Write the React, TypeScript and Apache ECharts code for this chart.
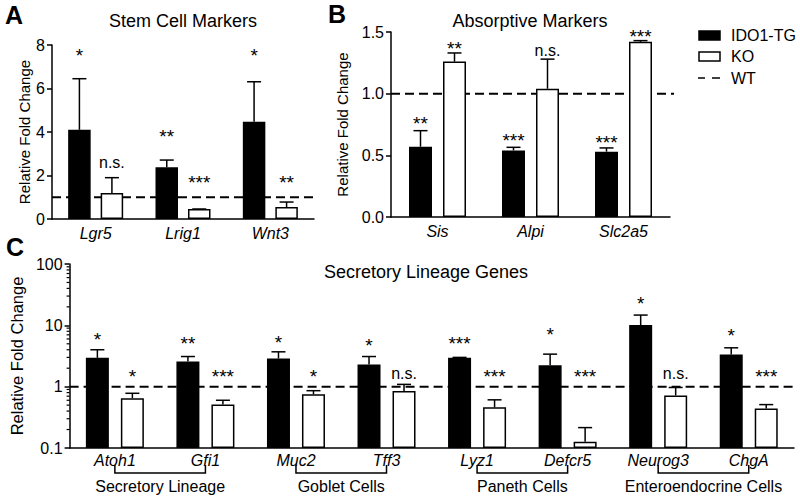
import React, { useEffect, useRef } from 'react';
import * as echarts from 'echarts';

const FONT = '"Liberation Sans", Arial, Helvetica, sans-serif';

// ---------- Panel A: Stem Cell Markers ----------
const stemGenes = ['Lgr5', 'Lrig1', 'Wnt3'];
const stemTG = [4.1, 2.38, 4.47];
const stemTGSem = [2.35, 0.33, 1.84];
const stemKO = [1.2, 0.46, 0.55];
const stemKOSem = [0.7, 0.0, 0.23];
const stemTGSig = ['*', '**', '*'];
const stemKOSig = ['n.s.', '***', '**'];
const stemTGSigY = [7.7, 3.97, 7.7];
const stemKOSigY = [2.55, 1.88, 1.88];

// ---------- Panel B: Absorptive Markers ----------
const absGenes = ['Sis', 'Alpi', 'Slc2a5'];
const absTG = [0.57, 0.54, 0.53];
const absTGSem = [0.13, 0.025, 0.03];
const absKO = [1.26, 1.04, 1.42];
const absKOSem = [0.07, 0.24, 0.01];
const absTGSig = ['**', '***', '***'];
const absKOSig = ['**', 'n.s.', '***'];
const absTGSigY = [0.79, 0.65, 0.64];
const absKOSigY = [1.4, 1.34, 1.5];

// ---------- Panel C: Secretory Lineage Genes ----------
const secGenes = ['Atoh1', 'Gfi1', 'Muc2', 'Tff3', 'Lyz1', 'Defcr5', 'Neurog3', 'ChgA'];
const secTG = [2.95, 2.57, 2.88, 2.3, 2.95, 2.24, 10.1, 3.35];
const secTGSem = [1.05, 0.53, 0.82, 0.8, 0.05, 1.15, 4.6, 0.95];
const secKO = [0.65, 0.51, 0.75, 0.85, 0.46, 0.127, 0.72, 0.44];
const secKOSem = [0.13, 0.09, 0.11, 0.24, 0.15, 0.088, 0.25, 0.07];
const secTGSig = ['*', '**', '*', '*', '***', '*', '*', '*'];
const secKOSig = ['*', '***', '*', 'n.s.', '***', '***', 'n.s.', '***'];
const secTGSigY = [6.9, 5.8, 6.0, 5.5, 5.8, 8.3, 26, 7.8];
const secKOSigY = [1.7, 1.7, 1.7, 1.6, 1.7, 1.7, 1.6, 1.7];

const groupNames = ['Secretory Lineage', 'Goblet Cells', 'Paneth Cells', 'Enteroendocrine Cells'];
const groupStart = [0, 2, 4, 6];
const groupEnd = [1, 3, 5, 7];

const logMinorTicks = [0.2, 0.3, 0.4, 0.5, 0.6, 0.7, 0.8, 0.9, 2, 3, 4, 5, 6, 7, 8, 9, 20, 30, 40, 50, 60, 70, 80, 90];
const wtLevel = 1;

const seriesNames = ['IDO1-TG', 'KO', 'WT'];

const black = '#000';

function catAxis(g: number, data: string[], margin: number) {
  return {
    type: 'category',
    gridIndex: g,
    data,
    axisLine: { onZero: false, lineStyle: { color: black, width: 1.5 } },
    axisTick: { alignWithLabel: true, length: 6, lineStyle: { color: black, width: 1.5 } },
    axisLabel: { color: black, fontSize: 16, fontStyle: 'italic', fontFamily: FONT, margin },
    splitLine: { show: false },
  };
}

function valAxisBase(g: number, nameGap: number, nameSize: number) {
  return {
    gridIndex: g,
    name: 'Relative Fold Change',
    nameLocation: 'middle',
    nameGap,
    nameTextStyle: { fontSize: nameSize, color: black, fontFamily: FONT },
    axisLine: { show: true, lineStyle: { color: black, width: 1.5 } },
    axisTick: { show: true, length: 5, lineStyle: { color: black, width: 1.5 } },
    axisLabel: { color: black, fontSize: 16, fontFamily: FONT, margin: 7 },
    splitLine: { show: false },
  };
}

function barSeries(g: number, name: string, data: number[], fill: string, bw: number, gap: number) {
  return {
    type: 'bar',
    name,
    xAxisIndex: g,
    yAxisIndex: g,
    data,
    barWidth: bw,
    barGap: (gap / bw) * 100 + '%',
    silent: true,
    z: 2,
    itemStyle: { color: fill, borderColor: black, borderWidth: 1.5 },
  };
}

function errSeries(
  g: number,
  side: number,
  vals: number[],
  sems: number[],
  sigs: string[],
  sigYs: number[],
  bw: number,
  gap: number
) {
  return {
    type: 'custom',
    xAxisIndex: g,
    yAxisIndex: g,
    z: 4,
    silent: true,
    clip: false,
    data: vals.map((v, i) => [i, v, v + sems[i], sigYs[i]]),
    renderItem: (params: any, api: any) => {
      const i = params.dataIndex;
      const c = api.coord([api.value(0), api.value(1)]);
      const t = api.coord([api.value(0), api.value(2)]);
      const l = api.coord([api.value(0), api.value(3)]);
      const x = c[0] + (side * (bw + gap)) / 2;
      const lbl = sigs[i];
      const isStar = lbl.indexOf('*') >= 0;
      return {
        type: 'group',
        children: [
          { type: 'line', shape: { x1: x, y1: c[1], x2: x, y2: t[1] }, style: { stroke: black, lineWidth: 1.5 } },
          { type: 'line', shape: { x1: x - 7, y1: t[1], x2: x + 7, y2: t[1] }, style: { stroke: black, lineWidth: 1.5 } },
          {
            type: 'text',
            x,
            y: l[1] + (isStar ? 4 : -1),
            style: {
              text: lbl,
              align: 'center',
              verticalAlign: 'middle',
              fontSize: isStar ? 19 : 16,
              fontFamily: FONT,
              fill: black,
            },
          },
        ],
      };
    },
  };
}

function wtSeries(g: number, ext: number) {
  return {
    type: 'custom',
    name: 'WT',
    xAxisIndex: g,
    yAxisIndex: g,
    z: 1,
    silent: true,
    clip: false,
    data: [[0, wtLevel]],
    renderItem: (params: any, api: any) => {
      const cs = params.coordSys;
      const y = api.coord([0, api.value(1)])[1];
      return {
        type: 'line',
        shape: { x1: cs.x, y1: y, x2: cs.x + cs.width + ext, y2: y },
        style: { stroke: black, lineWidth: 2, lineDash: [9, 5] },
      };
    },
  };
}

function buildOption() {
  const series: any[] = [];
  // Panel A
  series.push(wtSeries(0, 0));
  series.push(barSeries(0, seriesNames[0], stemTG, black, 22.5, 10));
  series.push(barSeries(0, seriesNames[1], stemKO, '#fff', 22.5, 10));
  series.push(errSeries(0, -1, stemTG, stemTGSem, stemTGSig, stemTGSigY, 22.5, 10));
  series.push(errSeries(0, 1, stemKO, stemKOSem, stemKOSig, stemKOSigY, 22.5, 10));
  // Panel B
  series.push(wtSeries(1, 4));
  series.push(barSeries(1, seriesNames[0], absTG, black, 23, 11));
  series.push(barSeries(1, seriesNames[1], absKO, '#fff', 23, 11));
  series.push(errSeries(1, -1, absTG, absTGSem, absTGSig, absTGSigY, 23, 11));
  series.push(errSeries(1, 1, absKO, absKOSem, absKOSig, absKOSigY, 23, 11));
  // Panel C
  series.push(wtSeries(2, 0));
  series.push(barSeries(2, seriesNames[0], secTG, black, 23, 12));
  series.push(barSeries(2, seriesNames[1], secKO, '#fff', 23, 12));
  series.push(errSeries(2, -1, secTG, secTGSem, secTGSig, secTGSigY, 23, 12));
  series.push(errSeries(2, 1, secKO, secKOSem, secKOSig, secKOSigY, 23, 12));
  // minor ticks of log axis
  series.push({
    type: 'custom',
    xAxisIndex: 2,
    yAxisIndex: 2,
    z: 5,
    silent: true,
    clip: false,
    data: logMinorTicks.map((v) => [0, v]),
    renderItem: (params: any, api: any) => {
      const cs = params.coordSys;
      const y = api.coord([0, api.value(1)])[1];
      return {
        type: 'line',
        shape: { x1: cs.x - 3, y1: y, x2: cs.x, y2: y },
        style: { stroke: black, lineWidth: 1.2 },
      };
    },
  });
  // group brackets
  series.push({
    type: 'custom',
    xAxisIndex: 2,
    yAxisIndex: 2,
    z: 5,
    silent: true,
    clip: false,
    data: groupStart.map((s, i) => [s, 1, groupEnd[i]]),
    renderItem: (params: any, api: any) => {
      const cs = params.coordSys;
      const i = params.dataIndex;
      const x1 = api.coord([api.value(0), 1])[0];
      const x2 = api.coord([api.value(2), 1])[0];
      const y0 = cs.y + cs.height;
      return {
        type: 'group',
        children: [
          {
            type: 'polyline',
            shape: {
              points: [
                [x1, y0 + 17],
                [x1, y0 + 25],
                [x2, y0 + 25],
                [x2, y0 + 17],
              ],
            },
            style: { stroke: black, lineWidth: 1.5, fill: 'none' },
          },
          {
            type: 'text',
            x: (x1 + x2) / 2,
            y: y0 + 38,
            style: {
              text: groupNames[i],
              align: 'center',
              verticalAlign: 'middle',
              fontSize: 16,
              fontFamily: FONT,
              fill: black,
            },
          },
        ],
      };
    },
  });

  const txt = (text: string, x: number, y: number, size: number, weight: string, align = 'center') => ({
    type: 'text',
    x,
    y,
    style: {
      text,
      align,
      verticalAlign: 'middle',
      fontSize: size,
      fontWeight: weight,
      fontFamily: FONT,
      fill: black,
    },
  });

  const graphic: any[] = [
    txt('A', 5, 15, 25, 'bold', 'left'),
    txt('B', 328, 14, 25, 'bold', 'left'),
    txt('C', 6, 247, 25, 'bold', 'left'),
    txt('Stem Cell Markers', 183, 21, 18, 'normal'),
    txt('Absorptive Markers', 530, 21, 18, 'normal'),
    txt('Secretory Lineage Genes', 426, 272, 18, 'normal'),
    // legend
    { type: 'rect', shape: { x: 699, y: 31, width: 21, height: 9 }, style: { fill: black, stroke: black, lineWidth: 1.5 } },
    txt(seriesNames[0], 731, 35, 16, 'normal', 'left'),
    { type: 'rect', shape: { x: 699, y: 52, width: 21, height: 9 }, style: { fill: '#fff', stroke: black, lineWidth: 1.5 } },
    txt(seriesNames[1], 731, 56, 16, 'normal', 'left'),
    { type: 'line', shape: { x1: 698, y1: 78, x2: 705, y2: 78 }, style: { stroke: black, lineWidth: 1.5 } },
    { type: 'line', shape: { x1: 712, y1: 78, x2: 720, y2: 78 }, style: { stroke: black, lineWidth: 1.5 } },
    txt(seriesNames[2], 731, 78, 16, 'normal', 'left'),
  ];

  return {
    animation: false,
    backgroundColor: '#fff',
    textStyle: { fontFamily: FONT },
    grid: [
      { left: 52, top: 45, width: 262, height: 174 },
      { left: 391, top: 32, width: 279, height: 185 },
      { left: 60, top: 264, width: 734, height: 184 },
    ],
    xAxis: [catAxis(0, stemGenes, 6), catAxis(1, absGenes, 6), catAxis(2, secGenes, 4)],
    yAxis: [
      { ...valAxisBase(0, 18, 15), type: 'value', min: 0, max: 8, interval: 2 },
      {
        ...valAxisBase(1, 41, 15),
        type: 'value',
        min: 0,
        max: 1.5,
        interval: 0.5,
        axisLabel: { color: black, fontSize: 16, fontFamily: FONT, margin: 7, formatter: (v: number) => v.toFixed(1) },
      },
      {
        ...valAxisBase(2, 27, 16.5),
        type: 'log',
        logBase: 10,
        min: 0.1,
        max: 100,
        startValue: 0.1,
        axisLabel: {
          color: black,
          fontSize: 16,
          fontFamily: FONT,
          margin: 7,
          formatter: (v: number) => (v < 1 ? v.toFixed(1) : String(Math.round(v))),
        },
      },
    ],
    series,
    graphic,
  };
}

export default function App() {
  const ref = useRef<HTMLDivElement>(null);
  useEffect(() => {
    const chart = echarts.init(ref.current as HTMLDivElement, null, { renderer: 'svg' });
    chart.setOption(buildOption() as any);
    return () => chart.dispose();
  }, []);
  return (
    <div
      ref={ref}
      style={{ position: 'fixed', left: 0, top: 0, width: 800, height: 497, background: '#fff' }}
    />
  );
}
